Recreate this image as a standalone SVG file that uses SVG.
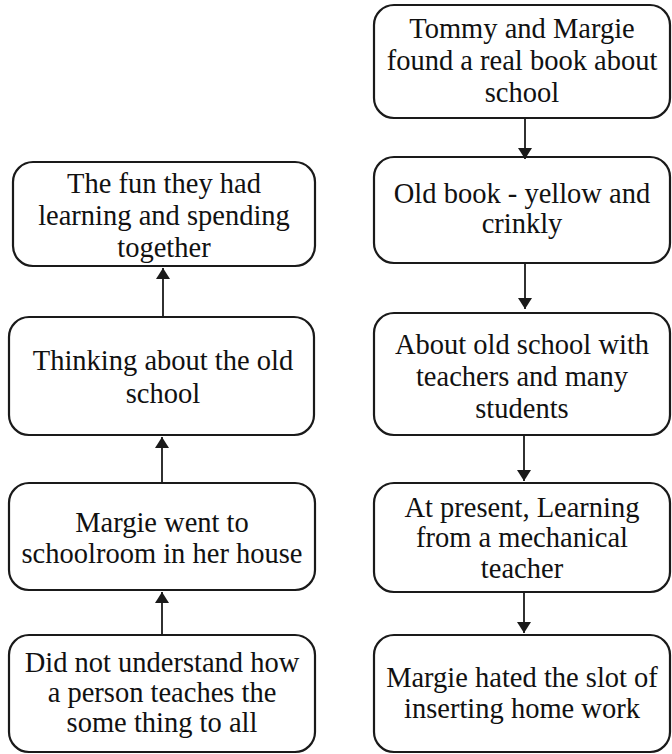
<svg xmlns="http://www.w3.org/2000/svg" width="672" height="754" viewBox="0 0 672 754">
<style>
.box{fill:#fff;stroke:#1a1a1a;stroke-width:2.2}
.t{font-family:'Liberation Serif','DejaVu Serif',serif;font-size:28.5px;fill:#111;text-anchor:middle}
.c{stroke:#1a1a1a;stroke-width:1.8;fill:none}
</style>
<defs>
<marker id="ah" viewBox="0 0 10 10" refX="10" refY="5" markerWidth="11" markerHeight="14" markerUnits="userSpaceOnUse" orient="auto" preserveAspectRatio="none">
<path d="M0,0 L10,5 L0,10 z" fill="#1a1a1a"/>
</marker>
</defs>
<rect width="672" height="754" fill="#fff"/>
<g id="L1"><rect class="box" x="13" y="162" width="302" height="104" rx="20"/>
<text class="t" font-family="Liberation Serif, DejaVu Serif, serif"><tspan x="164" y="193">The fun they had</tspan><tspan x="164" y="225">learning and spending</tspan><tspan x="164" y="257">together</tspan></text></g>
<g id="L2"><rect class="box" x="9" y="317" width="305" height="118" rx="20"/>
<text class="t"><tspan x="163" y="370">Thinking about the old</tspan><tspan x="163" y="403">school</tspan></text></g>
<g id="L3"><rect class="box" x="9" y="483" width="306" height="107" rx="20"/>
<text class="t"><tspan x="162" y="532">Margie went to</tspan><tspan x="162" y="563">schoolroom in her house</tspan></text></g>
<g id="L4"><rect class="box" x="9" y="635" width="306" height="117" rx="20"/>
<text class="t"><tspan x="162" y="672">Did not understand how</tspan><tspan x="162" y="702">a person teaches the</tspan><tspan x="162" y="732">some thing to all</tspan></text></g>
<g id="R1"><rect class="box" x="374" y="5" width="296" height="113" rx="20"/>
<text class="t"><tspan x="522" y="38">Tommy and Margie</tspan><tspan x="522" y="70">found a real book about</tspan><tspan x="522" y="102">school</tspan></text></g>
<g id="R2"><rect class="box" x="374" y="157" width="296" height="106" rx="20"/>
<text class="t"><tspan x="522" y="203">Old book - yellow and</tspan><tspan x="522" y="233">crinkly</tspan></text></g>
<g id="R3"><rect class="box" x="374" y="313" width="296" height="122" rx="20"/>
<text class="t"><tspan x="522" y="354">About old school with</tspan><tspan x="522" y="386">teachers and many</tspan><tspan x="522" y="418">students</tspan></text></g>
<g id="R4"><rect class="box" x="374" y="483" width="296" height="109" rx="20"/>
<text class="t"><tspan x="522" y="517">At present, Learning</tspan><tspan x="522" y="547">from a mechanical</tspan><tspan x="522" y="578">teacher</tspan></text></g>
<g id="R5"><rect class="box" x="374" y="635" width="296" height="117" rx="20"/>
<text class="t"><tspan x="522" y="687">Margie hated the slot of</tspan><tspan x="522" y="718">inserting home work</tspan></text></g>
<g id="connectors">
<line class="c" x1="163" y1="317" x2="163" y2="268" marker-end="url(#ah)"/>
<line class="c" x1="162" y1="483" x2="162" y2="437" marker-end="url(#ah)"/>
<line class="c" x1="162" y1="635" x2="162" y2="592" marker-end="url(#ah)"/>
<line class="c" x1="525" y1="118" x2="525" y2="159" marker-end="url(#ah)"/>
<line class="c" x1="525" y1="263" x2="525" y2="309" marker-end="url(#ah)"/>
<line class="c" x1="524" y1="435" x2="524" y2="481" marker-end="url(#ah)"/>
<line class="c" x1="524" y1="592" x2="524" y2="633" marker-end="url(#ah)"/>
</g>
</svg>
